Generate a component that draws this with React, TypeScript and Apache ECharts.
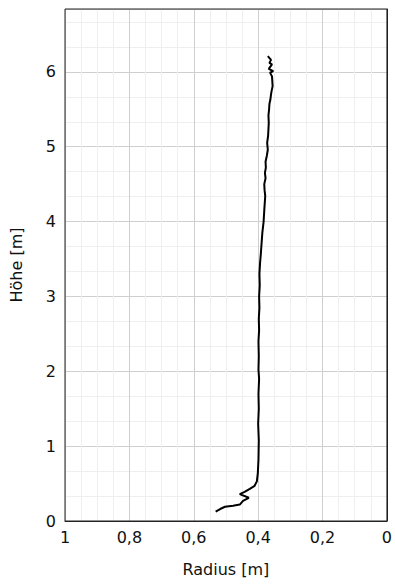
import React, { useEffect, useRef } from "react";
import * as echarts from "echarts";

const radius = [0.532, 0.518, 0.503, 0.478, 0.457, 0.449, 0.447, 0.429, 0.457, 0.442, 0.426, 0.411, 0.404, 0.401, 0.399, 0.398, 0.4, 0.398, 0.399, 0.397, 0.399, 0.398, 0.399, 0.397, 0.398, 0.396, 0.397, 0.395, 0.396, 0.394, 0.392, 0.39, 0.387, 0.383, 0.381, 0.378, 0.38, 0.381, 0.377, 0.379, 0.376, 0.377, 0.373, 0.37, 0.372, 0.369, 0.367, 0.368, 0.366, 0.365, 0.362, 0.36, 0.358, 0.355, 0.357, 0.363, 0.353, 0.367, 0.357, 0.365, 0.36, 0.37];
const height = [0.124, 0.16, 0.19, 0.205, 0.22, 0.26, 0.27, 0.31, 0.36, 0.39, 0.43, 0.47, 0.53, 0.64, 0.82, 1.08, 1.3, 1.5, 1.7, 1.9, 2.02, 2.2, 2.4, 2.55, 2.7, 2.85, 3.0, 3.15, 3.3, 3.45, 3.55, 3.67, 3.85, 4.0, 4.15, 4.34, 4.42, 4.5, 4.58, 4.65, 4.72, 4.8, 4.88, 4.96, 5.05, 5.15, 5.32, 5.42, 5.5, 5.57, 5.63, 5.7, 5.75, 5.81, 5.94, 5.99, 6.01, 6.04, 6.1, 6.12, 6.16, 6.21];

const xTicks = [1, 0.8, 0.6, 0.4, 0.2, 0];
const yTicks = [0, 1, 2, 3, 4, 5, 6];
const yMax = 6.84;

const FONT = "DejaVu Sans";

export default function App() {
  const ref = useRef<HTMLDivElement>(null);
  useEffect(() => {
    if (!ref.current) return;
    const chart = echarts.init(ref.current, null, { renderer: "svg" });
    const data = radius.map((r, i) => [r, height[i]]);
    chart.setOption({
      animation: false,
      backgroundColor: "#ffffff",
      grid: {
        left: 63,
        right: 6,
        top: 9,
        bottom: 63,
        show: true,
        borderColor: "#222",
        borderWidth: 1,
        z: 5,
      },
      xAxis: [
        {
          type: "value",
          min: 0,
          max: 1,
          interval: 0.2,
          inverse: true,
          z: 4,
          name: "Radius [m]",
          nameLocation: "middle",
          nameGap: 40,
          nameTextStyle: { fontFamily: FONT, fontSize: 16, color: "#111" },
          axisLine: { show: true, lineStyle: { color: "#222" } },
          axisTick: { show: false },
          axisLabel: {
            fontFamily: FONT,
            fontSize: 16,
            color: "#111",
            margin: 8,
            formatter: (v: number) =>
              xTicks.some((t) => Math.abs(t - v) < 1e-9) ? String(Math.round(v * 10) / 10).replace(".", ",") : "",
          },
          splitLine: { show: true, lineStyle: { color: "#cfcfcf", width: 1 } },
          minorTick: { show: false, splitNumber: 4 },
          minorSplitLine: { show: true, lineStyle: { color: "#efefef", width: 1 } },
        },
      ],
      yAxis: [
        {
          type: "value",
          min: 0,
          max: yMax,
          interval: 1,
          z: 4,
          name: "Höhe [m]",
          nameLocation: "middle",
          nameGap: 41,
          nameTextStyle: { fontFamily: FONT, fontSize: 16, color: "#111" },
          axisLine: { show: true, lineStyle: { color: "#222" } },
          axisTick: { show: false },
          axisLabel: {
            fontFamily: FONT,
            fontSize: 16,
            color: "#111",
            margin: 9,
            showMaxLabel: false,
            formatter: (v: number) => (yTicks.includes(v) ? String(v) : ""),
          },
          splitLine: { show: true, lineStyle: { color: "#cfcfcf", width: 1 } },
        },
        {
          type: "value",
          min: 0,
          max: yMax,
          interval: 1 / 3,
          position: "left",
          z: 1,
          axisLine: { show: false },
          axisTick: { show: false },
          axisLabel: { show: false },
          splitLine: { show: true, lineStyle: { color: "#efefef", width: 1 } },
        },
      ],
      series: [
        {
          type: "line",
          yAxisIndex: 0,
          data,
          showSymbol: false,
          symbol: "none",
          lineStyle: { color: "#000", width: 2 },
          z: 10,
        },
      ],
    });
    return () => chart.dispose();
  }, []);
  return <div ref={ref} style={{ position: "fixed", left: 0, top: 0, width: 395, height: 584 }} />;
}
